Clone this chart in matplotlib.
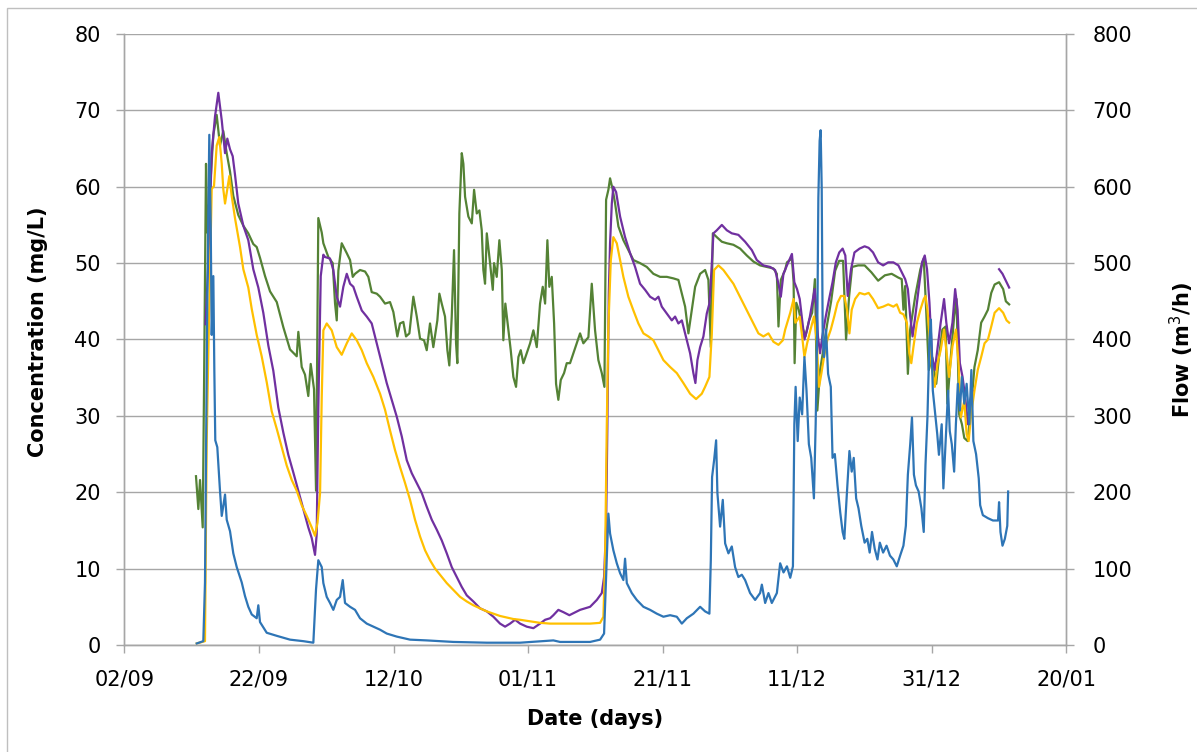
import numpy as np
import pandas as pd
import matplotlib
matplotlib.use('Agg')
import matplotlib.pyplot as plt
import matplotlib.dates as mdates
from matplotlib.patches import Rectangle

plt.rcParams['font.family'] = 'DejaVu Sans'

# days counted from 02/09
start = pd.Timestamp('2014-09-02')

# Concentration (mg/L) - green
green_day = [10.63, 10.98, 11.23, 11.63, 11.82, 12.12, 12.31, 12.72, 13.21, 13.71, 14.20, 14.69, 15.20,
             15.69, 16.18, 16.92, 17.67, 18.41, 19.15, 19.66, 20.15, 20.90, 21.64, 22.64, 23.62, 24.61,
             25.61, 25.85, 26.35, 26.84, 27.33, 27.69, 28.18, 28.48, 28.82, 29.33, 29.57, 30.31, 30.96,
             31.31, 31.56, 31.80, 32.30, 33.05, 33.54, 33.94, 34.28, 35.02, 35.77, 36.26, 36.76, 37.51,
             38.00, 38.74, 39.48, 39.98, 40.57, 40.97, 41.46, 41.86, 42.36, 42.95, 43.46, 43.95, 44.54,
             44.94, 45.43, 45.92, 46.52, 46.82, 47.17, 47.66, 48.01, 48.30, 48.66, 49.00, 49.30, 49.49,
             49.79, 50.15, 50.39, 50.64, 51.13, 51.64, 51.98, 52.38, 52.77, 53.12, 53.36, 53.61, 53.87,
             54.36, 54.76, 54.95, 55.35, 55.74, 56.10, 56.33, 56.63, 57.08, 57.43, 57.82, 58.22, 58.57,
             58.92, 59.31, 59.81, 60.31, 60.80, 61.30, 61.79, 62.19, 62.54, 62.88, 63.17, 63.53, 63.88,
             64.17, 64.51, 64.87, 65.36, 65.76, 66.25, 67.74, 68.23, 68.98, 69.48, 69.97, 70.46, 70.97,
             71.36, 71.61, 71.95, 72.20, 72.60, 72.95, 73.44, 74.18, 74.92, 75.67, 76.66, 77.66, 78.64,
             79.64, 80.64, 81.62, 82.36, 82.87, 83.36, 83.85, 84.35, 84.85, 85.59, 86.33, 86.82, 87.18,
             87.48, 88.07, 88.82, 89.56, 90.54, 91.54, 92.53, 93.52, 94.51, 95.51, 96.49, 97.00, 97.24,
             97.59, 98.23, 98.50, 99.24, 99.49, 99.64, 99.89, 100.25, 100.76, 101.25, 101.80, 102.25,
             102.66, 103.02, 103.43, 103.88, 104.48, 105.07, 105.67, 106.26, 106.85, 107.29, 107.75,
             108.19, 109.09, 110.05, 111.05, 112.06, 113.06, 114.07, 115.07, 115.57, 115.82, 116.08,
             116.48, 116.82, 117.58, 118.34, 118.84, 119.20, 119.59, 120.09, 120.70, 121.10, 121.61,
             122.10, 122.35, 122.86, 123.36, 123.72, 124.11, 124.52, 124.87, 125.37, 125.88, 126.38,
             126.87, 127.38, 127.88, 128.39, 128.88, 129.38, 130.04, 130.65, 131.05, 131.54]
green_val = [22.1, 17.8, 21.6, 15.4, 33.0, 63.0, 54.0, 59.7, 66.8, 69.4, 65.4, 67.3, 64.4,
             62.0, 58.8, 56.3, 54.9, 53.9, 52.5, 52.1, 50.7, 48.3, 46.3, 44.9, 41.6, 38.7,
             37.8, 41.0, 36.4, 35.4, 32.6, 36.8, 33.5, 20.2, 55.9, 54.0, 52.6, 50.8, 50.0,
             44.7, 42.5, 49.0, 52.6, 51.3, 50.4, 48.2, 48.6, 49.1, 48.9, 48.2, 46.2, 46.0,
             45.6, 44.7, 44.9, 43.6, 40.4, 42.1, 42.3, 40.4, 40.8, 45.6, 43.0, 40.1, 39.9,
             38.6, 42.1, 39.0, 42.5, 46.0, 44.7, 43.0, 38.6, 36.6, 43.0, 51.7, 39.5, 36.9,
             56.5, 64.4, 63.0, 58.7, 56.1, 55.2, 59.6, 56.5, 56.9, 54.3, 49.1, 47.3, 53.9,
             50.0, 46.5, 50.0, 48.2, 53.0, 49.1, 39.9, 44.7, 41.2, 38.6, 35.1, 33.8, 37.7,
             38.6, 36.9, 38.2, 39.5, 41.2, 39.0, 44.7, 46.9, 44.7, 53.0, 46.9, 48.2, 42.1,
             34.2, 32.1, 34.7, 35.6, 36.9, 36.9, 40.8, 39.5, 40.3, 47.3, 41.2, 37.3, 35.6,
             33.8, 58.3, 59.6, 61.1, 59.6, 57.8, 54.8, 53.0, 51.7, 50.4, 50.0, 49.5, 48.6,
             48.2, 48.2, 48.0, 47.8, 46.0, 44.3, 40.8, 43.8, 46.9, 48.6, 49.1, 47.8, 39.0,
             53.9, 53.4, 52.8, 52.6, 52.4, 51.9, 51.0, 50.2, 49.7, 49.5, 49.3, 48.6, 41.7,
             47.8, 49.1, 50.1, 50.6, 47.5, 36.9, 44.8, 43.9, 41.7, 40.4, 42.5, 43.5,
             47.9, 30.7, 36.0, 38.5, 42.0, 45.0, 49.0, 50.3, 50.3, 40.0, 45.7,
             49.5, 49.7, 49.7, 48.8, 47.7, 48.4, 48.6, 48.1, 47.9, 43.9, 47.0,
             35.5, 41.3, 45.7, 49.2, 50.6, 43.9, 36.0, 37.7, 34.2, 37.7, 41.3,
             41.7, 31.6, 37.7, 43.0, 45.3, 30.2, 28.9, 27.1, 26.7, 31.1, 36.4,
             38.6, 42.2, 43.0, 43.9, 46.1, 47.2, 47.5, 46.6, 45.0, 44.6]

# Concentration (mg/L) - purple (gap near the end)
purple_day = [12.05, 12.46, 12.97, 13.46, 13.95, 14.46, 14.95, 15.29, 15.69, 16.09, 16.43, 16.92, 17.67,
              18.41, 19.15, 19.90, 20.64, 21.39, 22.13, 22.87, 23.62, 24.36, 25.10, 25.85, 26.59, 27.33,
              27.84, 28.33, 28.58, 28.82, 29.18, 29.57, 29.82, 30.56, 31.05, 31.56, 32.05, 32.54, 33.05,
              33.54, 34.03, 34.53, 35.28, 36.02, 36.76, 37.51, 38.25, 38.99, 39.74, 40.48, 41.23, 41.97,
              42.71, 43.46, 44.20, 44.94, 45.69, 46.43, 47.17, 47.92, 48.66, 49.40, 50.15, 50.89, 51.87,
              52.87, 53.87, 54.85, 55.84, 56.59, 57.33, 58.08, 58.82, 59.81, 60.80, 61.79, 62.54, 63.28,
              63.77, 64.51, 65.26, 66.15, 67.74, 69.23, 70.23, 70.97, 71.31, 71.61, 71.80, 72.01, 72.20,
              72.46, 72.69, 73.10, 73.69, 74.43, 75.18, 75.92, 76.66, 77.41, 78.15, 78.90, 79.39, 79.89,
              80.64, 81.38, 81.87, 82.36, 82.87, 83.61, 84.10, 84.59, 84.89, 85.19, 85.59, 86.08, 86.58,
              86.97, 87.22, 87.57, 88.07, 88.82, 89.56, 90.30, 91.28, 92.28, 93.28, 94.02, 95.00, 96.00,
              96.74, 97.24, 97.59, 97.98, 98.50, 99.24, 99.60, 100.00, 100.40, 100.76, 101.10, 101.50,
              101.91, 102.26, 102.62, 102.91, 103.11, 103.42, 103.76, 104.27, 104.77, 105.28, 105.77,
              106.28, 106.78, 107.18, 107.54, 108.03, 108.54, 109.30, 110.05, 110.65, 111.30, 112.06,
              112.80, 113.56, 114.32, 115.07, 115.57, 116.08, 116.48, 116.83, 117.18, 117.58, 118.08,
              118.59, 118.99, 119.33, 119.69, 120.09, 120.49, 120.85, 121.36, 121.86, 122.20, 122.61,
              123.11, 123.51, 123.87, 124.21, 124.61, 125.01, 125.41, 125.73, 126.13, 127.0, 130.04,
              130.55, 131.16, 131.54]
purple_val = [42.0, 50.0, 64.4, 69.2, 72.3, 68.7, 64.4, 66.3, 64.9, 64.0, 61.6, 57.8, 54.9,
              53.0, 49.2, 46.8, 43.5, 39.2, 35.9, 31.1, 27.8, 24.9, 22.6, 20.2, 17.8, 15.4,
              14.0, 11.8, 14.5, 31.0, 48.3, 51.1, 50.8, 50.6, 49.1, 45.6, 44.3, 46.9, 48.6,
              47.3, 46.9, 45.6, 43.8, 43.0, 42.1, 39.5, 36.9, 34.3, 32.1, 29.9, 27.3, 24.2,
              22.5, 21.2, 19.9, 18.1, 16.4, 15.1, 13.7, 12.0, 10.2, 8.9, 7.6, 6.5, 5.7,
              4.8, 4.4, 3.7, 2.8, 2.4, 2.8, 3.3, 2.8, 2.4, 2.2, 2.8, 3.3, 3.5,
              3.9, 4.6, 4.3, 3.9, 4.6, 5.0, 5.9, 6.8, 8.9, 15.5, 28.6, 46.0, 52.6,
              57.8, 60.0, 59.3, 56.1, 53.4, 51.3, 49.5, 47.3, 46.5, 45.6, 45.2, 45.6, 44.3,
              43.4, 42.5, 43.0, 42.1, 42.5, 39.9, 38.2, 35.6, 34.3, 37.3, 39.0, 40.4, 43.4,
              44.7, 48.2, 53.9, 54.3, 55.0, 54.3, 53.9, 53.7, 52.8, 51.7, 50.4, 49.7, 49.5,
              49.1, 47.3, 45.6, 48.6, 49.7, 51.2, 47.5, 46.6, 45.3, 42.6, 40.0, 41.3,
              43.0, 44.8, 46.6, 43.9, 40.4, 38.2, 40.4, 43.0, 45.3, 47.5, 50.1,
              51.4, 51.9, 51.0, 45.7, 49.2, 51.4, 51.9, 52.2, 52.0, 51.4, 50.1,
              49.7, 50.1, 50.1, 49.7, 48.8, 47.9, 46.6, 43.0, 40.4, 43.0, 46.6,
              50.1, 51.0, 49.2, 44.8, 37.7, 36.0, 38.6, 42.2, 45.3, 42.2, 39.5,
              42.2, 46.6, 43.9, 36.9, 35.1, 32.4, 28.9, 32.0, 33.3, np.nan, 49.2,
              48.6, 47.5, 46.8]

# Concentration (mg/L) - yellow
yellow_day = [10.74, 11.97, 12.22, 12.46, 12.97, 13.31, 13.71, 14.10, 14.46, 14.69, 14.95, 15.29, 15.59,
              15.94, 16.43, 17.18, 17.67, 18.41, 18.92, 19.66, 20.40, 21.15, 21.89, 22.64, 23.38, 24.12,
              24.87, 25.61, 26.35, 27.10, 27.84, 28.33, 28.58, 28.70, 29.08, 29.33, 29.57, 30.07, 30.81,
              31.56, 32.30, 33.05, 33.79, 34.53, 35.28, 36.02, 37.00, 38.00, 38.74, 39.48, 40.23, 40.97,
              41.72, 42.46, 43.20, 43.95, 44.69, 45.43, 46.18, 46.92, 47.92, 48.90, 49.90, 50.89, 51.87,
              52.87, 53.87, 54.85, 55.84, 56.84, 57.82, 58.82, 60.31, 61.79, 63.28, 64.77, 66.25, 67.74,
              69.23, 70.72, 71.21, 71.46, 71.71, 71.95, 72.31, 72.69, 73.20, 73.69, 74.18, 74.92, 75.67,
              76.41, 77.16, 77.90, 78.64, 79.39, 80.13, 81.13, 82.12, 83.10, 84.10, 84.99, 85.84, 86.33,
              86.97, 87.33, 87.67, 88.31, 89.05, 89.80, 90.54, 91.28, 92.03, 92.77, 93.52, 94.26, 95.00,
              95.75, 96.49, 97.24, 97.89, 98.24, 98.99, 99.49, 99.75, 100.40, 100.76, 101.10, 101.50,
              102.01, 102.51, 102.91, 103.27, 103.61, 104.01, 104.52, 105.02, 105.53, 106.02, 106.53,
              107.03, 107.43, 107.79, 108.13, 108.64, 109.30, 110.05, 110.65, 111.30, 112.06, 112.80,
              113.56, 114.32, 114.83, 115.33, 115.82, 116.33, 116.69, 116.99, 117.32, 117.83, 118.34,
              118.84, 119.10, 119.39, 119.69, 120.09, 120.49, 120.90, 121.36, 121.86, 122.20, 122.61,
              123.11, 123.62, 124.02, 124.36, 124.87, 125.22, 125.52, 125.88, 126.38, 126.87, 127.38,
              127.88, 128.39, 128.88, 129.38, 130.04, 130.65, 131.16, 131.54]
yellow_val = [0.2, 0.5, 26.4, 38.0, 59.7, 60.1, 65.4, 66.5, 63.0, 59.7, 57.8, 59.7, 61.4,
              58.8, 55.9, 52.1, 49.2, 46.8, 44.0, 40.6, 37.8, 34.4, 30.6, 28.3, 25.9, 23.5,
              21.6, 20.2, 18.3, 16.9, 15.4, 14.3, 15.4, 16.0, 19.9, 32.5, 41.2, 42.1, 41.2,
              39.0, 38.0, 39.5, 40.8, 39.9, 38.6, 36.9, 35.1, 32.9, 30.8, 28.1, 25.5, 23.3,
              21.2, 19.0, 16.4, 14.2, 12.4, 11.1, 10.0, 9.2, 8.1, 7.2, 6.3, 5.7, 5.2,
              4.8, 4.4, 4.1, 3.8, 3.6, 3.4, 3.3, 3.1, 2.9, 2.8, 2.8, 2.8, 2.8,
              2.8, 2.9, 3.7, 11.1, 28.6, 41.7, 50.4, 53.4, 52.6, 50.4, 48.2, 45.6, 43.8,
              42.1, 40.8, 40.4, 39.9, 38.6, 37.3, 36.4, 35.6, 34.3, 32.9, 32.2, 32.9, 33.8,
              35.1, 40.8, 49.1, 49.7, 49.1, 48.2, 47.3, 46.0, 44.7, 43.4, 42.1, 40.8, 40.4,
              40.8, 39.7, 39.3, 39.9, 41.3, 43.5, 45.3, 42.2, 43.0, 40.4, 37.7, 39.5,
              41.3, 43.0, 40.0, 33.8, 35.5, 37.7, 40.0, 41.3, 43.0, 44.8, 45.7,
              45.7, 43.9, 40.8, 43.9, 45.3, 46.1, 45.9, 46.1, 45.3, 44.1, 44.3,
              44.6, 44.3, 44.6, 43.5, 43.3, 42.2, 38.2, 36.9, 39.1, 42.2, 43.9,
              45.3, 45.7, 43.9, 40.4, 36.0, 33.8, 36.9, 38.6, 41.3, 38.6, 35.1,
              39.1, 41.3, 36.9, 29.8, 32.0, 27.6, 26.7, 30.2, 33.3, 36.0, 37.7,
              39.5, 40.0, 41.7, 43.5, 44.1, 43.5, 42.5, 42.2]

# Flow (m3/h) - blue, right axis
flow_day = [10.74, 11.72, 11.97, 12.31, 12.61, 12.82, 12.97, 13.21, 13.36, 13.50, 13.80, 14.20, 14.46,
            14.95, 15.20, 15.69, 16.18, 16.69, 17.43, 17.92, 18.41, 18.92, 19.66, 19.90, 20.15, 21.15,
            22.64, 24.61, 26.59, 28.08, 28.48, 28.82, 29.33, 29.57, 30.07, 30.56, 31.05, 31.56, 32.05,
            32.45, 32.79, 33.54, 34.28, 35.02, 36.02, 37.00, 38.00, 38.99, 40.48, 42.46, 44.94, 48.90,
            53.87, 58.82, 63.77, 64.77, 69.23, 70.72, 71.31, 71.61, 71.95, 72.20, 72.69, 73.20, 73.69,
            74.18, 74.43, 74.69, 75.43, 76.17, 77.16, 78.15, 79.15, 80.13, 81.13, 82.12, 82.87, 83.61,
            84.59, 85.59, 86.33, 86.97, 87.18, 87.37, 87.67, 87.97, 88.16, 88.56, 88.96, 89.31, 89.80,
            90.30, 90.79, 91.28, 91.79, 92.28, 93.02, 93.77, 94.51, 94.77, 95.26, 95.75, 96.25, 97.00,
            97.49, 97.99, 98.50, 98.99, 99.39, 99.60, 99.79, 100.10, 100.40, 100.76, 101.10, 101.41,
            101.76, 102.11, 102.51, 102.77, 103.02, 103.17, 103.36, 103.51, 103.67, 103.82, 104.01,
            104.31, 104.62, 105.02, 105.28, 105.62, 106.02, 106.42, 106.78, 107.03, 107.43, 107.79,
            108.13, 108.43, 108.79, 109.14, 109.55, 110.05, 110.45, 110.80, 111.15, 111.55, 111.96,
            112.31, 112.80, 113.31, 113.82, 114.32, 114.83, 115.33, 115.82, 116.18, 116.48, 116.83,
            117.09, 117.38, 117.68, 118.08, 118.49, 118.84, 119.10, 119.39, 119.69, 119.90, 120.19,
            120.49, 120.85, 121.10, 121.51, 121.76, 122.10, 122.46, 122.71, 123.01, 123.36, 123.62,
            123.91, 124.21, 124.52, 124.87, 125.22, 125.62, 125.92, 126.22, 126.62, 127.02, 127.23,
            127.63, 128.39, 129.13, 129.89, 130.04, 130.25, 130.55, 130.90, 131.26, 131.39]
flow_val = [2, 5, 82, 450, 668, 550, 406, 483, 359, 268, 259, 202, 169,
            197, 164, 149, 120, 102, 82, 64, 50, 40, 35, 52, 30, 16,
            12, 7, 5, 3, 73, 111, 102, 81, 63, 55, 46, 59, 63,
            85, 55, 50, 46, 35, 28, 24, 20, 15, 11, 7, 6, 4,
            3, 3, 6, 4, 4, 7, 15, 89, 172, 146, 124, 107, 94,
            85, 113, 81, 68, 59, 50, 46, 41, 37, 39, 37, 28, 35,
            41, 50, 44, 41, 111, 220, 242, 268, 199, 155, 190, 133, 120,
            129, 102, 89, 92, 85, 68, 59, 68, 79, 55, 68, 55, 68,
            107, 95, 103, 88, 103, 289, 338, 267, 324, 302, 377, 333,
            263, 245, 192, 289, 422, 585, 660, 674, 598, 400, 377,
            413, 355, 338, 245, 250, 209, 174, 148, 139, 201, 254,
            227, 245, 192, 179, 156, 134, 139, 121, 148, 126, 112,
            134, 121, 130, 117, 112, 103, 117, 130, 156, 223, 263,
            298, 223, 209, 201, 179, 148, 236, 298, 400, 426, 333,
            307, 276, 249, 289, 205, 267, 333, 280, 263, 227, 289,
            342, 307, 351, 316, 342, 289, 360, 267, 250, 218, 183,
            170, 166, 163, 163, 187, 148, 130, 139, 156, 201]

xtick_dates = pd.date_range('2014-09-02', periods=8, freq='20D')


def to_dates(days):
    return start + pd.to_timedelta(np.array(days), unit='D')


fig = plt.figure(figsize=(11.97, 7.52), dpi=100)
ax = fig.add_axes([0.104, 0.1423, 0.7866, 0.8125])
ax2 = ax.twinx()

grid_col = '#A6A6A6'
ax.plot(to_dates(green_day), green_val, color='#548235', lw=1.6)
ax.plot(to_dates(purple_day), purple_val, color='#7030A0', lw=1.6)
ax.plot(to_dates(yellow_day), yellow_val, color='#FFC000', lw=1.6)
ax2.plot(to_dates(flow_day), flow_val, color='#2E75B6', lw=1.6)

ax.set_ylim(0, 80)
ax2.set_ylim(0, 800)
ax.set_yticks(np.arange(0, 81, 10))
ax2.set_yticks(np.arange(0, 801, 100))
ax.set_xlim(xtick_dates[0], xtick_dates[-1])
ax.set_xticks(xtick_dates)
ax.xaxis.set_major_formatter(mdates.DateFormatter('%d/%m'))

ax.yaxis.grid(True, color=grid_col, lw=1.0)
ax.set_axisbelow(True)

for a in (ax, ax2):
    a.spines['top'].set_visible(False)
    for s in ('left', 'right', 'bottom'):
        a.spines[s].set_color(grid_col)
        a.spines[s].set_linewidth(1.0)
    a.tick_params(colors=grid_col, labelcolor='black', labelsize=15, length=6, width=1.0)

ax.tick_params(axis='y', pad=11)
ax2.tick_params(axis='y', pad=13)
ax.tick_params(axis='x', pad=12)

ax.set_ylabel('Concentration (mg/L)', fontsize=15, fontweight='bold')
ax.yaxis.set_label_coords(-0.081, 0.512)
ax2.set_ylabel('Flow (m$^3$/h)', fontsize=15, fontweight='bold', rotation=90)
ax2.yaxis.set_label_coords(1.108, 0.483)
ax.set_xlabel('Date (days)', fontsize=15, fontweight='bold', labelpad=14)

# chart outer border
fig.patches.append(Rectangle((7 / 1197, -0.02), 1.05, 1 - 8 / 752 + 0.02,
                             transform=fig.transFigure, fill=False,
                             edgecolor='#BFBFBF', lw=1.0))

fig.savefig('out.png', dpi=100)
